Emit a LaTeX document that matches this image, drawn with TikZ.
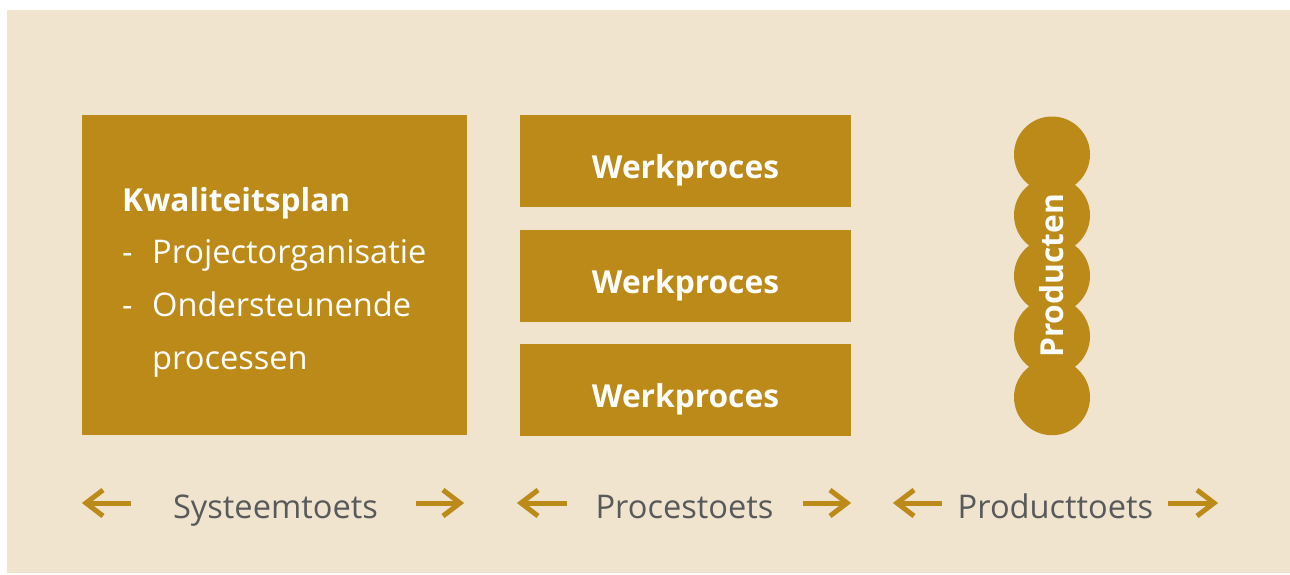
\documentclass[tikz,border=0pt]{standalone}
\usepackage{fontspec}
\setmainfont{Open Sans}
\definecolor{beige}{RGB}{241,228,207}
\definecolor{gold}{RGB}{188,138,24}
\definecolor{txtgray}{RGB}{88,89,91}
\tikzset{
  goldbox/.style={fill=gold, draw=none, inner sep=0pt, anchor=north west},
  boxtitle/.style={text=white, font=\fontsize{31.7}{38}\selectfont\bfseries, inner sep=0pt, anchor=base},
  listtext/.style={text=white, font=\fontsize{32.6}{39}\selectfont, inner sep=0pt, anchor=base west},
  toetslabel/.style={text=txtgray, font=\fontsize{32.6}{39}\selectfont, inner sep=0pt, anchor=base},
  prodcircle/.style={circle, fill=gold, minimum size=76pt, inner sep=0pt},
  arrowline/.style={draw=gold, line width=5pt, line join=miter},
}
\newcommand{\leftarr}[2]{%
  \draw[arrowline] (#1) -- (#2);
  \draw[arrowline] ([shift={(17,-13)}]#1) -- (#1) -- ([shift={(17,13)}]#1);
}
\newcommand{\rightarr}[2]{%
  \draw[arrowline] (#1) -- (#2);
  \draw[arrowline] ([shift={(-17,-13)}]#2) -- (#2) -- ([shift={(-17,13)}]#2);
}
\begin{document}
\begin{tikzpicture}[x=1pt,y=-1pt]
\useasboundingbox (0,0) rectangle (1290,574);
\fill[white] (0,0) rectangle (1290,574);
\fill[beige] (7,10) rectangle (1290,573);

% Kwaliteitsplan block
\node[goldbox, minimum width=385pt, minimum height=320pt] (kp) at (82,115) {};
\node[boxtitle, anchor=base west] (kptitle) at (122,211) {Kwaliteitsplan};
\node[listtext] (d1) at (122,263) {-};
\node[listtext] (l1) at (152,263) {Projectorganisatie};
\node[listtext] (d2) at (122,316) {-};
\node[listtext] (l2) at (152,316) {Ondersteunende};
\node[listtext] (l3) at (152,369) {processen};

% Werkproces blocks
\node[goldbox, minimum width=331pt, minimum height=92pt] (wp1) at (520,115) {};
\node[goldbox, minimum width=331pt, minimum height=92pt] (wp2) at (520,230) {};
\node[goldbox, minimum width=331pt, minimum height=92pt] (wp3) at (520,344) {};
\node[boxtitle] (wp1t) at (685.5,178) {Werkproces};
\node[boxtitle] (wp2t) at (685.5,293) {Werkproces};
\node[boxtitle] (wp3t) at (685.5,407) {Werkproces};

% Producten circles
\foreach \i/\yy in {1/154.5,2/215.2,3/275.9,4/336.5,5/397.2}{
  \node[prodcircle] (c\i) at (1052,\yy) {};
}
\node[boxtitle, rotate=90] (prod) at (1063,275.9) {Producten};

% Bottom labels
\node[toetslabel] (st) at (275.5,518) {Systeemtoets};
\node[toetslabel] (pt) at (684.5,518) {Procestoets};
\node[toetslabel] (prt) at (1055.5,518) {Producttoets};

\coordinate (a1l) at (86,503); \coordinate (a1r) at (131,503);
\coordinate (a2l) at (416,503); \coordinate (a2r) at (460,503);
\coordinate (a3l) at (521,503); \coordinate (a3r) at (567,503);
\coordinate (a4l) at (803,503); \coordinate (a4r) at (847,503);
\coordinate (a5l) at (897,503); \coordinate (a5r) at (942,503);
\coordinate (a6l) at (1168,503); \coordinate (a6r) at (1214,503);
\leftarr{a1l}{a1r}
\rightarr{a2l}{a2r}
\leftarr{a3l}{a3r}
\rightarr{a4l}{a4r}
\leftarr{a5l}{a5r}
\rightarr{a6l}{a6r}
\end{tikzpicture}
\end{document}
